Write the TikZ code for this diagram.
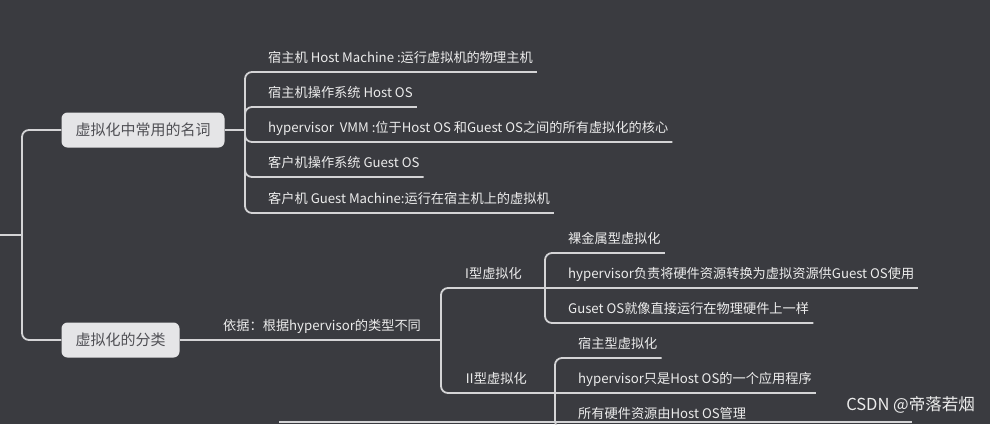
\documentclass[tikz,border=0pt]{standalone}
\usepackage{fontspec}
\setmainfont{Noto Sans CJK SC}
\definecolor{bg}{HTML}{3A3B40}
\definecolor{linec}{HTML}{D4D4D6}
\definecolor{txt}{HTML}{ECECEC}
\definecolor{boxfill}{HTML}{E5E5E7}
\definecolor{boxtxt}{HTML}{505055}
\begin{document}
\begin{tikzpicture}[x=1pt,y=-1pt,
  conn/.style={draw=linec, line width=1.8pt, rounded corners=7pt},
  leaf/.style={anchor=south west, text=txt, font=\fontsize{13.2}{15}\selectfont, inner xsep=2pt, inner ysep=6pt, text height=10pt, text depth=3pt},
  topic/.style={fill=boxfill, text=boxtxt, rounded corners=6pt, font=\fontsize{15}{18}\selectfont, minimum height=35pt, inner xsep=14pt}]
\fill[bg] (0,0) rectangle (990,424);
\useasboundingbox (0,0) rectangle (990,424);
\clip (0,0) rectangle (990,424);

% main topics
\node[topic] (t1) at (143,130) {虚拟化中常用的名词};
\node[topic] (t2) at (120.5,340) {虚拟化的分类};
\coordinate (root) at (0,235);
\coordinate (rj) at (22,235);
\draw[conn] (root) -- (rj);
\draw[conn] (t1.west) -| (rj) |- (t2.west);

% section 1
\coordinate (sa) at (245,130);
\draw[conn] (t1.east) -- (sa);
\node[leaf] (a1) at (266,72) {宿主机 Host Machine :运行虚拟机的物理主机\kern2pt};
\node[leaf] (a2) at (266,107) {宿主机操作系统 Host OS\kern2pt};
\node[leaf] (a3) at (266,142) {hypervisor\ \ VMM :位于Host OS 和Guest OS之间的所有虚拟化的核心\kern2pt};
\node[leaf] (a4) at (266,177) {客户机操作系统 Guest OS\kern2pt};
\node[leaf] (a5) at (266,213) {客户机 Guest Machine:运行在宿主机上的虚拟机\kern2pt};
\draw[conn] (a1.south east) -- (sa |- a1.south) -- (sa |- a5.south) -- (a5.south east);
\draw[conn] (sa) -- (sa |- a2.south) -- (a2.south east);
\draw[conn] (sa) -- (sa |- a3.south) -- (a3.south east);
\draw[conn] (sa) -- (sa |- a4.south) -- (a4.south east);

% section 2
\coordinate (sb) at (441,340);
\node[leaf] (lb) at (221,340) {依据：根据hypervisor的类型不同};
\draw[conn] (t2.east) -- (sb);
\node[leaf] (b1) at (463,288) {I型虚拟化};
\node[leaf] (b2) at (462,393) {\kern-1pt Ⅱ\kern-2.5pt 型虚拟化};
\coordinate (sc) at (545,288);
\coordinate (sd) at (555,393);
\draw[conn] (sc) -- (sb |- sc) -- (sb |- sd) -- (sd);

\node[leaf] (c1) at (566,253) {裸金属型虚拟化\kern2pt};
\node[leaf] (c2) at (566,288) {hypervisor负责将硬件资源转换为虚拟资源供Guest OS使用\kern2pt};
\node[leaf] (c3) at (566,323) {Guset OS就像直接运行在物理硬件上一样\kern2pt};
\draw[conn] (c1.south east) -- (sc |- c1.south) -- (sc |- c3.south) -- (c3.south east);
\draw[conn] (sc) -- (c2.south east);

\node[leaf] (d1) at (576,358) {宿主型虚拟化\kern2pt};
\node[leaf] (d2) at (576,393) {hypervisor只是Host OS的一个应用程序\kern2pt};
\node[leaf] (d3) at (576,428) {所有硬件资源由Host OS管理};
\draw[conn] (d1.south east) -- (sd |- d1.south) -- (sd |- d3.south) -- (d3.south east);
\draw[conn] (sd) -- (d2.south east);

% bottom edge line
\coordinate (bl) at (279,421.5);
\coordinate (br) at (912,421.5);
\draw[draw=linec, line width=2pt] (bl) -- (br);

% watermark
\node[anchor=east, text=txt, font=\fontsize{16.5}{19}\selectfont, inner sep=0pt] (wm) at (975,405) {CSDN @帝落若烟};
\end{tikzpicture}
\end{document}
